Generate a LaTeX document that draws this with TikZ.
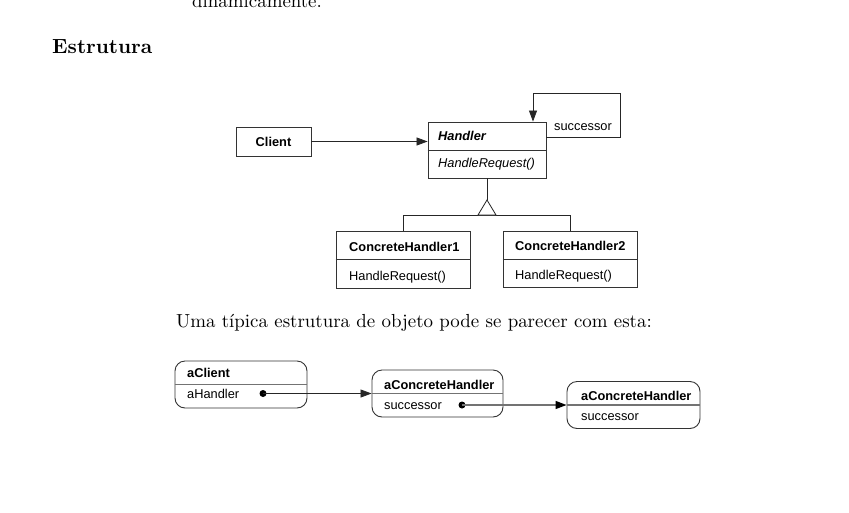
\documentclass[tikz,border=0pt]{standalone}
\usepackage{fontspec}
\newfontfamily\uml{Liberation Sans}
\newfontfamily\textserif{lmroman10-regular}[Extension=.otf, BoldFont=lmroman10-bold]
\usetikzlibrary{arrows.meta,calc}
\tikzset{
  umlbox/.style={draw=black!80, line width=0.9pt, fill=white, inner sep=0pt},
  objbox/.style={umlbox, rounded corners=10pt},
  lbl/.style={anchor=base west, inner sep=0pt, font=\uml\fontsize{12.8}{14}\selectfont},
  clbl/.style={inner sep=0pt, font=\uml\fontsize{12.8}{14}\selectfont\bfseries},
  divider/.style={draw=black!80, line width=0.8pt},
  objdivider/.style={draw=black!55, line width=1.4pt},
  conn/.style={draw=black!85, line width=0.8pt},
  arr/.style={conn, -{Triangle[length=11pt,width=8pt]}},
  grayarr/.style={draw=black!55, line width=1.4pt, -{Triangle[length=11pt,width=8pt,fill=black,color=black]}},
  objdot/.style={circle, fill=black, inner sep=0pt, minimum size=7pt},
  serif/.style={anchor=base west, inner sep=0pt, font=\textserif\fontsize{18.9}{22}\selectfont}
}
\begin{document}
\begin{tikzpicture}[x=1pt,y=-1pt]
\useasboundingbox[fill=white] (0,0) rectangle (849,512);

% page text
\node[serif] (prev) at (192,7) {dinamicamente.};
\node[serif, font=\textserif\fontsize{20.5}{24}\selectfont\bfseries] (title) at (52,53) {Estrutura};
\node[serif] (caption) at (176,327) {Uma típica estrutura de objeto pode se parecer com esta:};

% class diagram
\node[umlbox, minimum width=75pt, minimum height=29pt] (client) at (273.5,141.5) {};
\node[clbl] (clientt) at (client.center) {Client};

\node[umlbox, minimum width=118pt, minimum height=56pt] (handler) at (487,150) {};
\draw[divider] (handler.west) -- (handler.east);
\node[lbl, font=\uml\fontsize{12.8}{14}\selectfont\bfseries\itshape] (handlert) at (438,140) {Handler};
\node[lbl, font=\uml\fontsize{12.8}{14}\selectfont\itshape] (handlerm) at (438,167) {HandleRequest()};

\node[umlbox, minimum width=134pt, minimum height=57pt] (ch1) at (403,259.5) {};
\draw[divider] (ch1.west) -- (ch1.east);
\node[lbl, font=\uml\fontsize{12.8}{14}\selectfont\bfseries] (ch1t) at (349,251) {ConcreteHandler1};
\node[lbl] (ch1m) at (349,280) {HandleRequest()};

\node[umlbox, minimum width=134pt, minimum height=56pt] (ch2) at (570,259) {};
\draw[divider] (ch2.west) -- (ch2.east);
\node[lbl, font=\uml\fontsize{12.8}{14}\selectfont\bfseries] (ch2t) at (515,250) {ConcreteHandler2};
\node[lbl] (ch2m) at (515,279) {HandleRequest()};

% client -> handler
\draw[arr] (client.east) -- (client.east -| handler.west);

% successor self loop
\coordinate (loopa) at (620,137);
\coordinate (loopb) at (533,93);
\draw[arr] (handler.east |- loopa) -- (loopa) -- (loopa |- loopb) -- (loopb) -- (loopb |- handler.north);
\node[lbl] (succ) at (554,130) {successor};

% inheritance
\coordinate (apex) at (487,200);
\coordinate (bar) at (487,215);
\draw[conn] (handler.south) -- (apex);
\draw[conn] (ch1.north) -- (ch1.north |- bar) -- (ch2.north |- bar) -- (ch2.north);
\draw[conn, fill=white] (apex) -- ($(bar)+(-9,0)$) -- ($(bar)+(9,0)$) -- cycle;

% object diagram
\node[objbox, minimum width=132pt, minimum height=47pt] (oc) at (241,384.5) {};
\draw[objdivider] (oc.west) -- (oc.east);
\node[lbl, font=\uml\fontsize{12.8}{14}\selectfont\bfseries] (oct) at (187,377) {aClient};
\node[lbl] (ocm) at (187,398) {aHandler};

\node[objbox, minimum width=131pt, minimum height=47pt] (oh1) at (437.5,393.5) {};
\draw[objdivider] (oh1.west) -- (oh1.east);
\node[lbl, font=\uml\fontsize{12.8}{14}\selectfont\bfseries] (oh1t) at (384,389) {aConcreteHandler};
\node[lbl] (oh1m) at (384,409) {successor};

\node[objbox, minimum width=133pt, minimum height=47pt] (oh2) at (633.5,405) {};
\draw[objdivider] (oh2.west) -- (oh2.east);
\node[lbl, font=\uml\fontsize{12.8}{14}\selectfont\bfseries] (oh2t) at (581,400) {aConcreteHandler};
\node[lbl] (oh2m) at (581,420) {successor};

\node[objdot] (d1) at (263,393.5) {};
\node[objdot] (d2) at (462,405) {};
\draw[arr] (d1.center) -- (oh1.west);
\draw[grayarr] (d2.center) -- (oh2.west);
\end{tikzpicture}
\end{document}
